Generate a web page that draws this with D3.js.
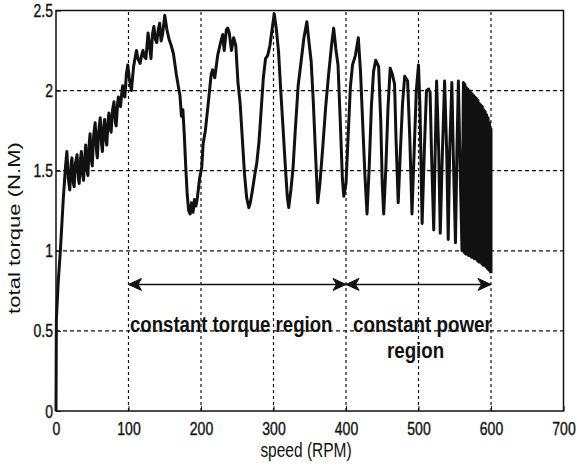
<!DOCTYPE html>
<html><head><meta charset="utf-8">
<script src="https://cdn.jsdelivr.net/npm/d3@7"></script>
<style>body{margin:0;background:#fff}</style></head>
<body>
<svg id="c" width="577" height="466"></svg>
<script>
// ---- data (speed RPM, torque N.M) ----
const rampPts = [[0,0],[0.5,0.57],[3,0.8],[6,1.0],[10,1.32],[13,1.52],[15,1.62]];
const torqueRegionPts = [[17,1.45],[19,1.38],[21,1.55],[22,1.58],[24,1.42],[25,1.40],[27,1.55],[29,1.60],[31,1.45],[32,1.42],[34,1.58],[35,1.62],[37,1.47],[38,1.44],[40,1.60],[41,1.66],[43,1.50],[44,1.47],[46,1.68],[47,1.73],[49,1.56],[50,1.53],[52,1.72],[54,1.80],[56,1.62],[57,1.58],[59,1.75],[61,1.83],[63,1.66],[64,1.62],[66,1.78],[67,1.82],[69,1.69],[70,1.66],[72,1.82],[73,1.86],[75,1.76],[76,1.74],[78,1.88],[80,1.93],[82,1.80],[83,1.78],[85,1.92],[86,1.96],[88,1.91],[89,1.90],[91,2.0],[92,2.03],[94,1.97],[95,1.96],[97,2.10],[99,2.16],[101,2.08],[104,2.00],[107,2.15],[111,2.25],[113,2.20],[116,2.17],[118,2.22],[120,2.25],[122,2.21],[124,2.20],[127,2.36],[129,2.28],[131,2.20],[133,2.35],[135,2.40],[137,2.32],[139,2.30],[141,2.38],[143,2.42],[145,2.31],[147,2.35],[150,2.47],[153,2.38],[156,2.32],[159,2.28],[162,2.23],[166,2.10],[169,2.02],[171,1.97],[173,1.84],[175,1.88],[177,1.72],[179,1.52],[181,1.35],[183,1.25],[185,1.23],[187,1.30],[189,1.24],[191,1.32],[193,1.28],[195,1.33],[198,1.45],[201,1.52],[203,1.67],[206,1.75],[210,1.92],[214,2.10],[216,2.13],[219,2.08],[223,2.22],[227,2.30],[230,2.35],[232,2.25],[235,2.38],[237,2.39],[239,2.36],[242,2.25],[245,2.33],[248,2.28],[251,2.05],[254,1.92],[257,1.70],[260,1.48],[263,1.33],[266,1.27],[268,1.30],[271,1.38],[274,1.47],[277,1.55],[280,1.68],[283,1.88],[286,2.08],[289,2.20],[292,2.22],[295,2.28],[298,2.38],[301,2.48],[304,2.38],[307,2.24],[310,2.00],[313,1.78],[316,1.55],[319,1.34],[321,1.27],[324,1.38],[327,1.52],[330,1.75],[334,2.03],[338,2.18],[342,2.33],[346,2.43],[349,2.30],[352,2.18],[355,1.92],[358,1.60],[361,1.30],[364,1.42],[368,1.65],[372,1.90],[376,2.10],[380,2.28],[383,2.39],[386,2.26],[389,2.16],[392,1.82],[395,1.45],[397,1.34]];
const powerRegionPts = [[400,1.42],[403,1.72],[406,2.02],[409,2.16],[413,2.22],[417,2.33],[420,2.12],[423,1.80],[426,1.48],[429,1.23],[432,1.52],[435,1.90],[438,2.12],[441,2.19],[445,2.15],[448,1.80],[450,1.42],[452,1.23],[455,1.52],[458,1.90],[461,2.14],[464,2.10],[467,2.04],[469,1.70],[472,1.30],[475,1.62],[478,1.92],[481,2.09],[485,2.06],[488,1.70],[491,1.23],[494,1.62],[497,2.00],[500,2.16],[502,1.90],[505,1.17],[508,1.62],[511,2.00],[514,2.01],[516,1.99],[518,1.60],[521,1.13],[523,1.62],[525,2.06],[528,1.60],[530,1.11],[533,1.62],[536,2.06],[539,1.60],[541,1.07],[543,1.62],[546,2.05],[548,1.60],[551,1.05],[553,1.62],[555,2.06],[557,1.60],[560,1.00],[562,2.05]];
const densePts = [[563,0.99],[564,2.04],[565,0.98],[566,2.02],[567,0.98],[568,2.01],[569,0.97],[570,2.00],[571,0.97],[572,1.99],[573,0.96],[574,1.98],[575,0.96],[576,1.97],[577,0.95],[578,1.96],[579,0.95],[580,1.95],[581,0.94],[582,1.94],[583,0.93],[584,1.92],[585,0.93],[586,1.91],[587,0.92],[588,1.90],[589,0.91],[590,1.88],[591,0.91],[592,1.87],[593,0.90],[594,1.85],[595,0.89],[596,1.83],[597,0.88],[598,1.80],[599,0.87],[600,1.76],[600,0.86]];
const xTicks = [0,100,200,300,400,500,600,700];
const yTicks = [0,0.5,1,1.5,2,2.5];
const yTickLabels = ["0","0.5","1","1.5","2","2.5"];
const arrowTorque = 0.79;
const torqueSpan = [100,400];
const powerSpan = [400,600];

// ---- drawing ----
const FONT = "'Liberation Sans', Arial, sans-serif";
const svg = d3.select("#c");
const x = d3.scaleLinear().domain([0,700]).range([56,563.5]);
const y = d3.scaleLinear().domain([0,2.5]).range([411,10.5]);

// grid
svg.append("g").selectAll("line").data(xTicks.slice(1,-1)).join("line")
  .attr("x1",d=>x(d)).attr("x2",d=>x(d)).attr("y1",y(0)).attr("y2",y(2.5))
  .attr("stroke","#111").attr("stroke-width",1.2).attr("stroke-dasharray","3,3");
svg.append("g").selectAll("line").data(yTicks.slice(1,-1)).join("line")
  .attr("y1",d=>y(d)).attr("y2",d=>y(d)).attr("x1",x(0)).attr("x2",x(700))
  .attr("stroke","#111").attr("stroke-width",1.2).attr("stroke-dasharray","4,3");

// axes
const xa = svg.append("g").attr("transform",`translate(0,${y(0)})`)
  .call(d3.axisBottom(x).tickValues(xTicks).tickSize(-5).tickFormat(d3.format("d")));
const ya = svg.append("g").attr("transform",`translate(${x(0)},0)`)
  .call(d3.axisLeft(y).tickValues(yTicks).tickSize(-5).tickFormat((d,i)=>yTickLabels[i]));
[xa,ya].forEach(g=>{g.select(".domain").remove(); g.selectAll("line").attr("stroke","#111").attr("stroke-width",1);});
xa.selectAll("text").attr("y",0).attr("dy",null)
  .attr("transform","translate(0,24) scale(1,1.25)")
  .style("font-family",FONT).style("font-size","14px").attr("fill","#111")
  .attr("stroke","#111").attr("stroke-width",0.3);
ya.selectAll("text").attr("x",0).attr("dy",null)
  .attr("transform","translate(-3,6) scale(1,1.25)")
  .style("font-family",FONT).style("font-size","14px").attr("fill","#111")
  .attr("stroke","#111").attr("stroke-width",0.3);

// box
svg.append("rect").attr("x",x(0)).attr("y",y(2.5)).attr("width",x(700)-x(0)).attr("height",y(0)-y(2.5))
  .attr("fill","none").attr("stroke","#111").attr("stroke-width",1.5);

// curve
const pts = rampPts.concat(torqueRegionPts, powerRegionPts, densePts);
svg.append("path").datum(pts)
  .attr("d", d3.line().x(d=>x(d[0])).y(d=>y(d[1])))
  .attr("fill","none").attr("stroke","#111").attr("stroke-width",3).attr("stroke-linejoin","round");

// arrows
function head(tx,ty,dir){ // dir -1: points left, +1: points right
  const b = -dir;
  return `M${tx},${ty} L${tx+b*13},${ty-6} L${tx+b*9.5},${ty} L${tx+b*13},${ty+6} Z`;
}
const ay = y(arrowTorque);
[torqueSpan,powerSpan].forEach(s=>{
  svg.append("line").attr("x1",x(s[0])).attr("x2",x(s[1])).attr("y1",ay).attr("y2",ay)
    .attr("stroke","#111").attr("stroke-width",1.4);
  svg.append("path").attr("d",head(x(s[0]),ay,-1)).attr("fill","#111").attr("stroke","#111").attr("stroke-width",1);
  svg.append("path").attr("d",head(x(s[1]),ay,1)).attr("fill","#111").attr("stroke","#111").attr("stroke-width",1);
});

// annotations
function label(txt,tx,ty,size,weight,anchor){
  svg.append("text").attr("transform",`translate(${tx},${ty}) scale(1,1.2)`)
    .attr("text-anchor",anchor||"start").style("font-family",FONT).style("font-size",size+"px")
    .style("font-weight",weight).attr("fill","#111").text(txt);
}
label("constant torque region",130,332,18.6,"bold");
label("constant power",353,332,18.8,"bold");
label("region",387,358,18.7,"bold");

// axis titles
svg.append("text").attr("transform","translate(306,457) scale(1,1.25)").attr("text-anchor","middle")
  .style("font-family",FONT).style("font-size","15.5px").attr("fill","#111").text("speed (RPM)");
svg.append("text").attr("transform","translate(19.5,228) rotate(-90) scale(1.3,1)").attr("text-anchor","middle")
  .style("font-family",FONT).style("font-size","17px").attr("fill","#111").text("total torque (N.M)");
</script>
</body></html>
